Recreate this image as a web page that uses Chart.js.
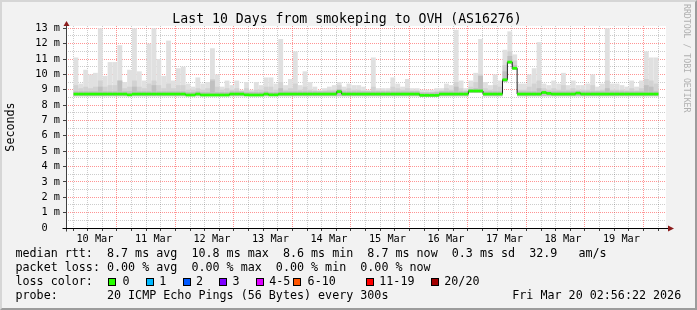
<!DOCTYPE html>
<html>
<head>
<meta charset="utf-8">
<title>smokeping OVH</title>
<script src="https://cdn.jsdelivr.net/npm/chart.js@4.4.1/dist/chart.umd.min.js"></script>
<style>
  html, body { margin: 0; padding: 0; background: #f2f2f2; }
  #wrap { position: relative; width: 697px; height: 310px; overflow: hidden; background: #f2f2f2;
          font-family: "DejaVu Sans Mono", monospace; color: #000; }
  #wrap canvas { position: absolute; left: 0; top: 0; }
  .frame { position: absolute; left: 0; top: 0; width: 697px; height: 310px; box-sizing: border-box;
           border-style: solid; border-width: 2px; border-color: #d6d6d6 #9c9c9c #9c9c9c #d6d6d6; pointer-events: none; }
  .txt { position: absolute; white-space: pre; font-size: 11.7px; line-height: 13.7px; }
  #title { position: absolute; left: 0; width: 694px; top: 11.4px; text-align: center; white-space: pre;
           font-size: 13.2px; line-height: 16px; }
  #credit { position: absolute; left: 682px; top: 4px; writing-mode: vertical-rl; white-space: pre;
            font-size: 8.2px; color: #b0b0b0; }
  .sw { position: absolute; top: 278px; width: 6px; height: 6px; border: 1px solid #000; }
</style>
</head>
<body>
<div id="wrap">
  <canvas id="c" width="697" height="310"></canvas>
  <div id="title">Last 10 Days from smokeping to OVH (AS16276)</div>
  <div id="credit">RRDTOOL / TOBI OETIKER</div>
  <div class="txt" style="left:15.5px; top:247.4px">median rtt:  8.7 ms avg  10.8 ms max  8.6 ms min  8.7 ms now  0.3 ms sd  32.9   am/s</div>
  <div class="txt" style="left:15.5px; top:261.1px">packet loss: 0.00 % avg  0.00 % max  0.00 % min  0.00 % now</div>
  <div class="txt" style="left:15.5px; top:274.8px">loss color:</div>
  <div class="txt" style="left:15.5px; top:288.5px">probe:       20 ICMP Echo Pings (56 Bytes) every 300s</div>
  <div class="txt" style="left:512.3px; top:288.5px">Fri Mar 20 02:56:22 2026</div>
  <div class="frame"></div>
</div>
<script>
// time axis: hours since 10 Mar 00:00, one column = 2 hours
var START = 3.2;
var STEP = 2;
var dayLabels = ['10 Mar', '11 Mar', '12 Mar', '13 Mar', '14 Mar', '15 Mar', '16 Mar', '17 Mar', '18 Mar', '19 Mar'];

// loss legend
var lossLabels = ['0', '1', '2', '3', '4-5', '6-10', '11-19', '20/20'];
var lossColors = ['#26ff00', '#00b8ff', '#0059ff', '#7e00ff', '#dd00ff', '#ff5500', '#ff0000', '#a10000'];
var lossBoxX = [108, 146, 183, 219, 256, 293, 366, 431];
var lossTextX = [122.5, 159.3, 196, 232.6, 269.3, 307.6, 379.3, 444.3];

// values in ms
var medianMs = [
  8.72, 8.72, 8.72, 8.72, 8.72, 8.72, 8.72, 8.72, 8.72, 8.72,
  8.72, 8.67, 8.72, 8.72, 8.72, 8.72, 8.72, 8.72, 8.72, 8.72,
  8.72, 8.72, 8.72, 8.66, 8.66, 8.72, 8.66, 8.66, 8.66, 8.66,
  8.66, 8.66, 8.72, 8.72, 8.72, 8.67, 8.66, 8.66, 8.66, 8.72,
  8.67, 8.67, 8.72, 8.72, 8.72, 8.72, 8.72, 8.72, 8.72, 8.72,
  8.72, 8.72, 8.72, 8.72, 8.88, 8.72, 8.72, 8.72, 8.72, 8.72,
  8.72, 8.72, 8.72, 8.72, 8.72, 8.72, 8.72, 8.72, 8.72, 8.72,
  8.72, 8.64, 8.64, 8.64, 8.64, 8.72, 8.72, 8.72, 8.72, 8.72,
  8.72, 8.92, 8.92, 8.92, 8.72, 8.72, 8.72, 8.72, 9.65, 10.8,
  10.4, 8.72, 8.72, 8.72, 8.72, 8.72, 8.82, 8.76, 8.72, 8.72,
  8.72, 8.72, 8.72, 8.78, 8.72, 8.72, 8.72, 8.72, 8.72, 8.72,
  8.72, 8.72, 8.72, 8.72, 8.72, 8.72, 8.72, 8.72, 8.72, 8.72
];
var minMs = [
  8.58, 8.58, 8.58, 8.58, 8.58, 8.58, 8.58, 8.58, 8.58, 8.58,
  8.58, 8.58, 8.58, 8.58, 8.58, 8.58, 8.58, 8.58, 8.58, 8.58,
  8.58, 8.58, 8.58, 8.58, 8.58, 8.58, 8.58, 8.58, 8.58, 8.58,
  8.58, 8.58, 8.58, 8.58, 8.58, 8.58, 8.58, 8.58, 8.58, 8.58,
  8.58, 8.58, 8.58, 8.58, 8.58, 8.58, 8.58, 8.58, 8.58, 8.58,
  8.58, 8.58, 8.58, 8.58, 8.58, 8.58, 8.58, 8.58, 8.58, 8.58,
  8.58, 8.58, 8.58, 8.58, 8.58, 8.58, 8.58, 8.58, 8.58, 8.58,
  8.58, 8.54, 8.54, 8.54, 8.54, 8.58, 8.58, 8.58, 8.58, 8.58,
  8.58, 8.8, 8.8, 8.8, 8.58, 8.58, 8.58, 8.58, 9.5, 10.7,
  10.3, 8.58, 8.58, 8.58, 8.58, 8.58, 8.58, 8.58, 8.58, 8.58,
  8.58, 8.58, 8.58, 8.58, 8.58, 8.58, 8.58, 8.58, 8.58, 8.58,
  8.58, 8.58, 8.58, 8.58, 8.58, 8.58, 8.58, 8.58, 8.58, 8.58
];
var innerMs = [
  8.9, 8.9, 8.9, 8.9, 8.9, 9.2, 8.9, 8.9, 8.9, 9.6,
  8.9, 8.9, 9.2, 8.9, 8.9, 8.9, 9.3, 8.9, 8.9, 8.9,
  8.9, 8.9, 8.9, 8.85, 8.85, 8.9, 8.85, 8.85, 9.6, 8.85,
  8.85, 8.85, 8.9, 8.9, 8.9, 8.85, 8.85, 8.85, 8.85, 8.9,
  8.85, 8.85, 9.1, 8.9, 8.9, 8.9, 8.9, 8.9, 8.9, 8.9,
  8.9, 8.9, 8.9, 8.9, 9.05, 8.9, 8.9, 8.9, 8.9, 8.9,
  8.9, 8.9, 8.9, 8.9, 8.9, 8.9, 8.9, 8.9, 8.9, 8.9,
  8.9, 8.82, 8.82, 8.82, 8.85, 8.9, 8.9, 8.9, 9.2, 8.9,
  8.9, 9.05, 9.1, 9.9, 8.9, 8.9, 8.9, 8.9, 10.2, 11.2,
  10.6, 8.9, 8.9, 8.9, 8.9, 9.1, 8.95, 8.9, 8.9, 8.9,
  8.9, 8.9, 8.9, 8.9, 8.9, 8.9, 8.9, 8.9, 8.9, 9.1,
  8.9, 8.9, 8.9, 8.9, 8.9, 8.9, 8.9, 9.3, 9.2, 8.9
];
var midMs = [
  9.3, 9.1, 9.2, 9.1, 9.2, 9.6, 9.2, 9.3, 9.3, 9.6,
  9.1, 9.2, 9.6, 9.2, 9.1, 9.4, 9.6, 9.3, 9.1, 9.4,
  9.1, 9.3, 9.3, 9.0, 9.0, 9.1, 9.0, 9.1, 9.7, 9.2,
  9.0, 9.1, 9.0, 9.1, 8.9, 9.1, 8.9, 9.0, 9.0, 9.2,
  9.2, 9.0, 9.5, 9.0, 9.1, 9.4, 9.0, 9.2, 9.0, 8.95,
  8.9, 8.95, 9.0, 9.0, 9.3, 9.0, 9.1, 9.0, 9.0, 8.95,
  8.9, 9.2, 8.95, 8.95, 8.95, 9.2, 9.1, 9.0, 9.1, 8.95,
  8.95, 8.85, 8.85, 8.85, 8.9, 8.95, 9.1, 9.0, 9.5, 9.1,
  8.95, 9.2, 9.5, 10.0, 9.1, 9.0, 9.3, 9.2, 10.6, 11.5,
  10.9, 9.0, 9.0, 9.2, 9.4, 9.6, 9.1, 9.0, 9.1, 9.0,
  9.3, 9.0, 9.1, 9.0, 9.0, 9.0, 9.3, 8.95, 9.0, 9.6,
  9.0, 9.0, 9.0, 8.95, 9.1, 8.95, 9.1, 9.7, 9.6, 9.4
];
var maxMs = [
  11.1, 9.4, 10.3, 10.0, 10.1, 13.0, 9.9, 10.8, 10.8, 11.9,
  9.5, 10.3, 13.0, 10.2, 9.6, 12.0, 13.0, 11.0, 9.9, 12.2,
  9.6, 10.4, 10.5, 9.4, 9.2, 9.8, 9.4, 9.5, 11.7, 10.0,
  9.2, 9.6, 9.3, 9.6, 9.0, 9.5, 9.0, 9.5, 9.3, 9.8,
  9.8, 9.4, 12.3, 9.3, 9.7, 11.5, 9.3, 10.2, 9.5, 9.2,
  9.0, 9.1, 9.2, 9.3, 9.5, 9.2, 9.4, 9.3, 9.3, 9.2,
  9.0, 11.1, 9.1, 9.1, 9.1, 9.8, 9.4, 9.2, 9.7, 9.1,
  9.1, 9.0, 9.0, 9.0, 9.1, 9.1, 9.4, 9.3, 12.9, 9.6,
  9.1, 9.6, 10.1, 12.3, 9.5, 9.3, 10.0, 9.6, 11.6, 12.8,
  11.3, 9.4, 9.4, 10.0, 10.4, 12.1, 9.4, 9.3, 9.6, 9.4,
  10.1, 9.3, 9.6, 9.3, 9.3, 9.4, 10.0, 9.2, 9.4, 13.0,
  9.4, 9.4, 9.3, 9.2, 9.6, 9.2, 9.6, 11.5, 11.1, 11.1
];

// legend swatches
var wrap = document.getElementById('wrap');
lossLabels.forEach(function (lab, i) {
  var b = document.createElement('div');
  b.className = 'sw';
  b.style.left = lossBoxX[i] + 'px';
  b.style.background = lossColors[i];
  wrap.appendChild(b);
  var t = document.createElement('div');
  t.className = 'txt';
  t.style.left = lossTextX[i] + 'px';
  t.style.top = '274.8px';
  t.textContent = lab;
  wrap.appendChild(t);
});

var centers = maxMs.map(function (v, i) { return START + STEP * (i + 0.5); });
function band(lo, hi) {
  return centers.map(function (x, i) { return { x: x, y: [lo[i], hi[i]] }; });
}

var hourTicks = [];
for (var h = 6; h <= 240; h += 6) hourTicks.push(h);
var msTicks = [];
for (var m = 0; m <= 13; m += 0.5) msTicks.push(m);

var majorGrid = 'rgba(255,0,0,0.42)';
var minorGrid = 'rgba(0,0,0,0.2)';

var rrdFrame = {
  id: 'rrdFrame',
  beforeDraw: function (chart) {
    var a = chart.chartArea, ctx = chart.ctx;
    ctx.save();
    ctx.fillStyle = '#ffffff';
    ctx.fillRect(a.left, a.top, a.right - a.left, a.bottom - a.top);
    ctx.restore();
  },
  afterDraw: function (chart) {
    var a = chart.chartArea, ctx = chart.ctx;
    var x0 = Math.round(a.left) + 0.5, y0 = Math.round(a.bottom) + 0.5;
    ctx.save();
    ctx.lineWidth = 1;
    ctx.strokeStyle = '#404040';
    ctx.beginPath();
    ctx.moveTo(x0, y0 + 3);
    ctx.lineTo(x0, a.top);
    ctx.stroke();
    ctx.strokeStyle = '#000000';
    ctx.beginPath();
    ctx.moveTo(x0 - 4, y0);
    ctx.lineTo(a.right + 3, y0);
    ctx.stroke();
    ctx.fillStyle = '#8b1c1c';
    ctx.beginPath();
    ctx.moveTo(x0 - 3, a.top);
    ctx.lineTo(x0 + 3, a.top);
    ctx.lineTo(x0, a.top - 5);
    ctx.closePath();
    ctx.fill();
    ctx.beginPath();
    ctx.moveTo(a.right + 2, y0 - 3);
    ctx.lineTo(a.right + 2, y0 + 3);
    ctx.lineTo(a.right + 8, y0);
    ctx.closePath();
    ctx.fill();
    ctx.restore();
  }
};

Chart.defaults.font.family = "'DejaVu Sans Mono', monospace";
Chart.defaults.color = '#000';

var barBase = { type: 'bar', grouped: false, barPercentage: 1, categoryPercentage: 1, borderWidth: 0, inflateAmount: 0 };

new Chart(document.getElementById('c').getContext('2d'), {
  type: 'bar',
  data: {
    datasets: [
      Object.assign({}, barBase, { label: 'max', data: band(minMs, maxMs), backgroundColor: '#e0e0e0', order: 5 }),
      Object.assign({}, barBase, { label: 'smoke', data: band(minMs, midMs), backgroundColor: '#d2d2d2', order: 4 }),
      Object.assign({}, barBase, { label: 'core', data: band(minMs, innerMs), backgroundColor: '#c0c0c0', order: 3 }),
      {
        type: 'line', label: 'median', order: 2,
        data: centers.map(function (x, i) { return { x: x, y: medianMs[i] }; }),
        stepped: 'middle', borderColor: '#202020', borderWidth: 1, pointRadius: 0, fill: false
      },
      Object.assign({}, barBase, {
        label: 'loss 0', order: 1, backgroundColor: lossColors[0],
        data: centers.map(function (x, i) { return { x: x, y: [medianMs[i] - 0.09, medianMs[i] + 0.09] }; })
      })
    ]
  },
  options: {
    responsive: false,
    animation: false,
    devicePixelRatio: 1,
    layout: { padding: { left: 0, right: 31, top: 26, bottom: 62 } },
    plugins: { legend: { display: false }, tooltip: { enabled: false }, title: { display: false } },
    scales: {
      x: {
        type: 'linear', min: START, max: START + STEP * maxMs.length, bounds: 'data',
        afterBuildTicks: function (s) { s.ticks = hourTicks.map(function (v) { return { value: v }; }); },
        afterFit: function (s) { s.height = 20; },
        grid: {
          color: function (c) { return c.tick && c.tick.value % 24 === 0 ? majorGrid : minorGrid; },
          lineWidth: 1, drawTicks: true, tickLength: 3, tickColor: '#404040'
        },
        border: { display: false, dash: [1, 1] },
        ticks: {
          autoSkip: false, maxRotation: 0, padding: 2, font: { size: 10.25 },
          callback: function (v) {
            return (v - 12) % 24 === 0 ? dayLabels[(v - 12) / 24] : '';
          }
        }
      },
      y: {
        type: 'linear', min: 0, max: 13.15, bounds: 'data',
        afterBuildTicks: function (s) { s.ticks = msTicks.map(function (v) { return { value: v }; }); },
        afterFit: function (s) { s.width = 66; },
        grid: {
          color: function (c) { return c.tick && Number.isInteger(c.tick.value) ? majorGrid : minorGrid; },
          lineWidth: 1, drawTicks: true, tickLength: 3,
          tickColor: function (c) { return c.tick && Number.isInteger(c.tick.value) ? '#404040' : 'rgba(0,0,0,0)'; }
        },
        border: { display: false, dash: [1, 1] },
        title: { display: true, text: 'Seconds', font: { size: 11.7 }, padding: { top: 4, bottom: 4 } },
        ticks: {
          autoSkip: false, padding: 3, font: { size: 10.25 },
          callback: function (v) {
            if (!Number.isInteger(v)) return '';
            return v === 0 ? '0  ' : v + ' m';
          }
        }
      }
    }
  },
  plugins: [rrdFrame]
});
</script>
</body>
</html>
